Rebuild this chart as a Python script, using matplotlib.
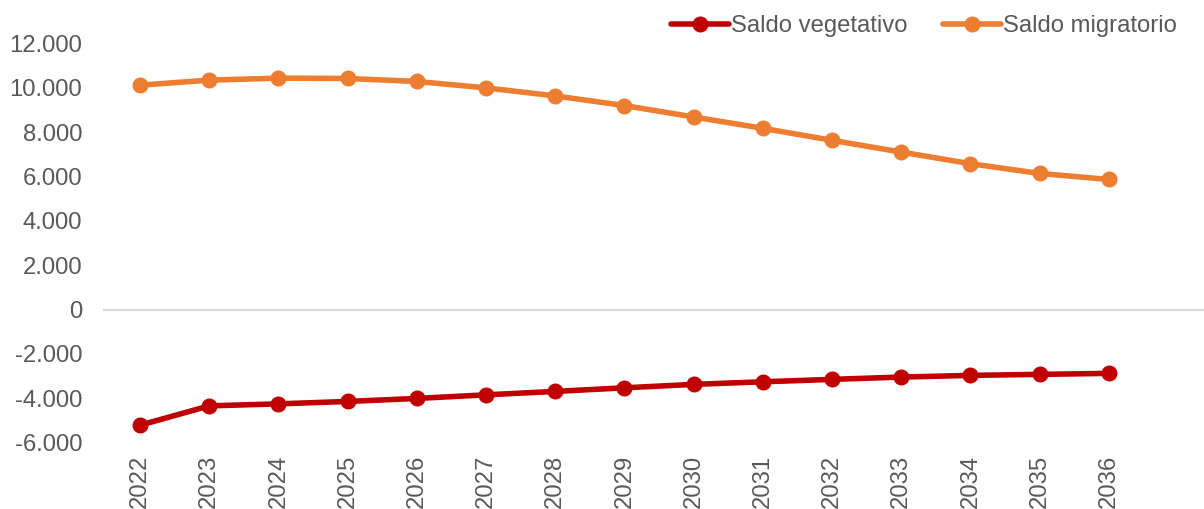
import matplotlib
matplotlib.use("Agg")
import matplotlib.pyplot as plt
from matplotlib.ticker import FuncFormatter

years = ["2022", "2023", "2024", "2025", "2026", "2027", "2028", "2029",
         "2030", "2031", "2032", "2033", "2034", "2035", "2036"]
saldo_vegetativo = [-5212, -4340, -4250, -4141, -4005, -3843, -3689, -3526,
                    -3372, -3255, -3146, -3042, -2966, -2920, -2876]
saldo_migratorio = [10113, 10340, 10430, 10415, 10280, 9991, 9629, 9195,
                    8680, 8169, 7627, 7098, 6573, 6135, 5863]
y_ticks = [-6000, -4000, -2000, 0, 2000, 4000, 6000, 8000, 10000, 12000]

plt.rcParams['font.family'] = ['Liberation Sans', 'DejaVu Sans']
TXT = '#595959'
FS = 17.2

fig = plt.figure(figsize=(12.04, 5.09), dpi=100)
W, H = 1204, 509
left, right = 103, 1204
top, bottom = 43.3, 442.7
ax = fig.add_axes([left / W, 1 - bottom / H, (right - left) / W, (bottom - top) / H])

x = list(range(len(years)))
ax.plot(x, saldo_vegetativo, color='#C00000', lw=4.0, marker='o', ms=10.5,
        label='Saldo vegetativo', solid_capstyle='round', zorder=3)
ax.plot(x, saldo_migratorio, color='#ED7D31', lw=4.0, marker='o', ms=10.5,
        label='Saldo migratorio', solid_capstyle='round', zorder=3)

ax.axhline(0, color='#D9D9D9', lw=1.5, zorder=1)

ax.set_ylim(-6000, 12000)
ax.set_yticks(y_ticks)
ax.yaxis.set_major_formatter(FuncFormatter(lambda v, p: f"{int(v):,}".replace(",", ".")))
ax.set_xlim(-0.535, -0.535 + (right - left) / 69.2)
ax.set_xticks(x)
ax.set_xticklabels(years, rotation=90)

for s in ax.spines.values():
    s.set_visible(False)
ax.tick_params(axis='both', length=0, labelsize=FS, colors=TXT)
ax.tick_params(axis='y', pad=15)
ax.tick_params(axis='x', pad=8.5)

leg = fig.legend(loc='center right', bbox_to_anchor=(1177 / W, 1 - 26 / H),
                 ncol=2, frameon=False, fontsize=FS, handlelength=2.4,
                 handletextpad=0.1, columnspacing=1.5, borderpad=0, borderaxespad=0)
for t in leg.get_texts():
    t.set_color(TXT)

fig.savefig('out.png', dpi=100)
